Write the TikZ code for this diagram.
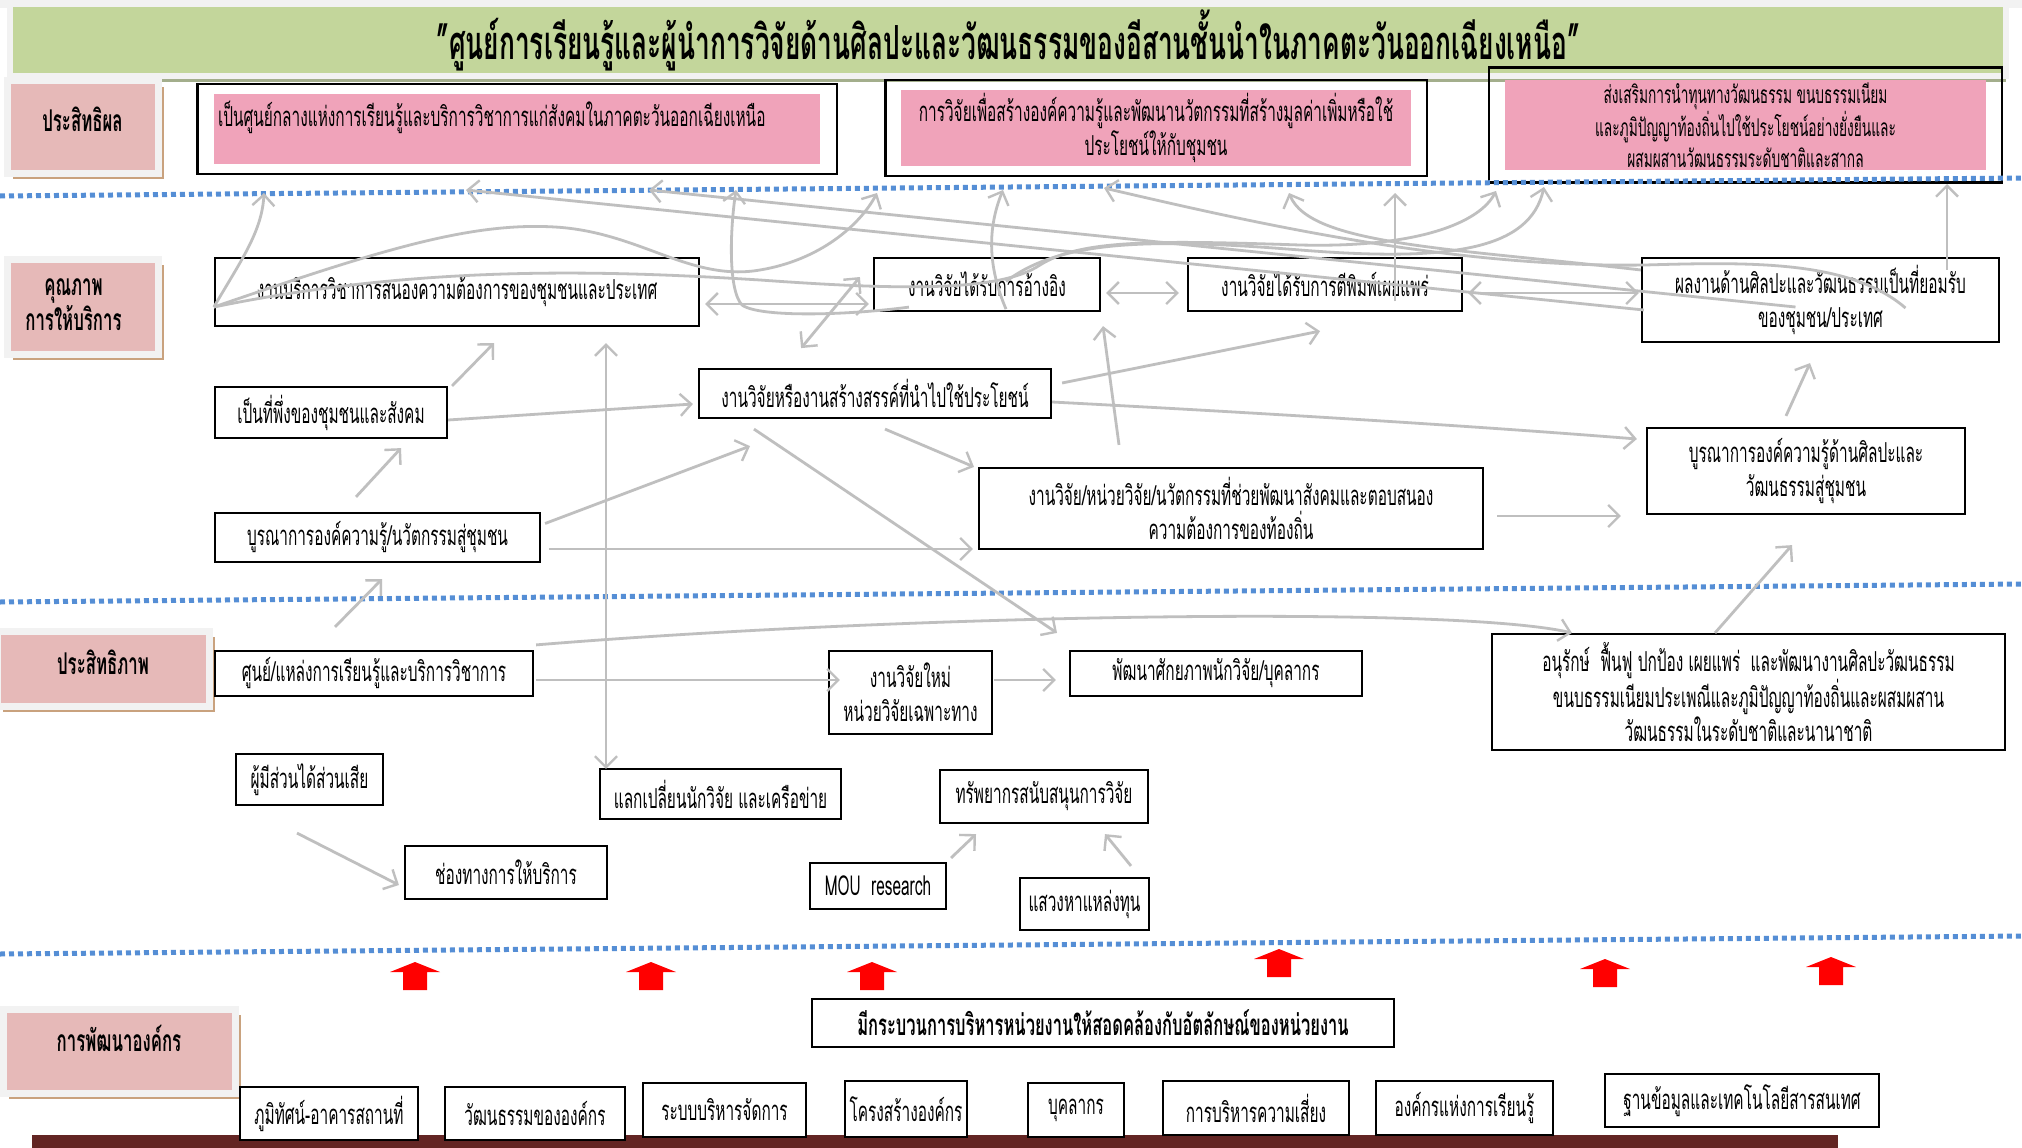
\documentclass[tikz,border=0pt]{standalone}
\usepackage{fontspec}
\setmainfont[Script=Thai,FakeStretch=0.56]{Loma}
\usetikzlibrary{arrows.meta,calc,fit,shadows}
\definecolor{bannergreen}{HTML}{C3D69B}
\definecolor{bannershade}{HTML}{A3AE8C}
\definecolor{lanepink}{HTML}{E6B9B8}
\definecolor{goalpink}{HTML}{F0A3BA}
\definecolor{dotblue}{HTML}{558ED5}
\definecolor{linegray}{HTML}{BFBFBF}
\definecolor{shadowtan}{HTML}{C9A27E}
\definecolor{barred}{HTML}{632523}
\definecolor{framegray}{HTML}{F2F2F2}
\newcommand\bodyfont{\fontsize{27.5}{34}\selectfont}
\newcommand\smallbody{\fontsize{24.5}{31}\selectfont}
\newcommand\lanefont{\fontsize{30}{34}\selectfont\bfseries}
\newcommand\titlefont{\fontsize{47}{50}\selectfont\bfseries}
\tikzset{
  box/.style={draw=black, line width=2.2pt, fill=white, align=center, inner sep=2pt, font=\bodyfont},
  goal/.style={fill=goalpink, align=center, inner sep=3pt, font=\bodyfont},
  frame/.style={draw=black, line width=2.4pt},
  lane/.style={fill=lanepink, draw=framegray, line width=7pt, align=center, font=\lanefont,
    drop shadow={shadow xshift=6pt, shadow yshift=-6pt, fill=shadowtan, opacity=1}},
  dotline/.style={draw=dotblue, line width=5pt, dash pattern=on 5pt off 4pt},
  barb/.tip={Straight Barb[length=11pt, width=22pt, line width=2.4pt]},
  link/.style={draw=linegray, line width=2.8pt, -barb},
  twoway/.style={draw=linegray, line width=2.8pt, barb-barb},
}
\begin{document}
\begin{tikzpicture}[x=1pt, y=-1pt]
\useasboundingbox (0,0) rectangle (2022,1148);
\fill[white] (0,0) rectangle (2022,1148);
\fill[framegray] (0,0) rectangle (2022,8);

% banner
\node[fill=bannergreen, draw=framegray, line width=6pt, minimum width=1996pt, minimum height=72pt,
  font=\titlefont, drop shadow={shadow xshift=0pt, shadow yshift=-6pt, fill=bannershade, opacity=1}]
  (title) at (1008,40) {"ศูนย์การเรียนรู้และผู้นำการวิจัยด้านศิลปะและวัฒนธรรมของอีสานชั้นนำในภาคตะวันออกเฉียงเหนือ"};

% lanes
\node[lane, minimum width=151pt, minimum height=92pt] (effL) at (82.5,127) {\raisebox{16pt}{ประสิทธิผล}};
\node[lane, minimum width=151pt, minimum height=95pt] (qualL) at (82.5,306.5) {\hspace*{-18pt}\raisebox{-6pt}{\begin{tabular}{@{}c@{}}คุณภาพ\\การให้บริการ\end{tabular}}};
\node[lane, minimum width=212pt, minimum height=75pt] (efcL) at (103,668.5) {\raisebox{12pt}{ประสิทธิภาพ}};
\node[lane, minimum width=232pt, minimum height=84pt] (orgL) at (119,1051) {\raisebox{26pt}{การพัฒนาองค์กร}};

% goals
\node[goal, minimum width=606pt, minimum height=70pt, text width=598pt, align=left] (goalA) at (517,129)
  {\raisebox{3pt}[0pt][0pt]{เป็นศูนย์กลางแห่งการเรียนรู้และบริการวิชาการแก่สังคมในภาคตะวันออกเฉียงเหนือ}};
\node[frame, fit=(goalA), inner xsep=16.5pt, inner ysep=10pt] (frameA) {};
\node[goal, minimum width=510pt, minimum height=72pt] (goalB) at (1156,128)
  {การวิจัยเพื่อสร้างองค์ความรู้และพัฒนานวัตกรรมที่สร้างมูลค่าเพิ่มหรือใช้\\ประโยชน์ให้กับชุมชน};
\node[frame, fit=(goalB), inner xsep=15.5pt, inner ysep=10pt] (frameB) {};
\node[goal, minimum width=481pt, minimum height=88pt, font=\smallbody] (goalC) at (1745.5,125)
  {ส่งเสริมการนำทุนทางวัฒนธรรม ขนบธรรมเนียม\\และภูมิปัญญาท้องถิ่นไปใช้ประโยชน์อย่างยั่งยืนและ\\ผสมผสานวัฒนธรรมระดับชาติและสากล};
\node[frame, fit=(goalC), inner xsep=16pt, inner ysep=12pt] (frameC) {};

% quality
\node[box, minimum width=484pt, minimum height=68pt] (svc) at (457,292) {งานบริการวิชาการสนองความต้องการของชุมชนและประเทศ};
\node[box, minimum width=226pt, minimum height=53pt] (cited) at (987,284.5) {งานวิจัยได้รับการอ้างอิง};
\node[box, minimum width=274pt, minimum height=53pt] (publ) at (1325,284.5) {งานวิจัยได้รับการตีพิมพ์เผยแพร่};
\node[box, minimum width=357pt, minimum height=84pt] (accept) at (1820.5,300) {ผลงานด้านศิลปะและวัฒนธรรมเป็นที่ยอมรับ\\ของชุมชน/ประเทศ};
\node[box, minimum width=232pt, minimum height=51pt] (depend) at (331,412.5) {เป็นที่พึ่งของชุมชนและสังคม};
\node[box, minimum width=352pt, minimum height=49pt] (useful) at (875,393.5) {งานวิจัยหรืองานสร้างสรรค์ที่นำไปใช้ประโยชน์};
\node[box, minimum width=325pt, minimum height=49pt] (integ) at (377.5,537.5) {บูรณาการองค์ความรู้/นวัตกรรมสู่ชุมชน};
\node[box, minimum width=504pt, minimum height=81pt] (local) at (1231,508.5) {งานวิจัย/หน่วยวิจัย/นวัตกรรมที่ช่วยพัฒนาสังคมและตอบสนอง\\ความต้องการของท้องถิ่น};
\node[box, minimum width=318pt, minimum height=86pt] (artint) at (1806,471) {บูรณาการองค์ความรู้ด้านศิลปะและ\\วัฒนธรรมสู่ชุมชน};

% efficiency
\node[box, minimum width=318pt, minimum height=45pt] (center) at (374,673.5) {ศูนย์/แหล่งการเรียนรู้และบริการวิชาการ};
\node[box, minimum width=163pt, minimum height=83pt] (newres) at (910.5,692.5) {งานวิจัยใหม่\\หน่วยวิจัยเฉพาะทาง};
\node[box, minimum width=292pt, minimum height=45pt] (staff) at (1216,673.5) {พัฒนาศักยภาพนักวิจัย/บุคลากร};
\node[box, minimum width=513pt, minimum height=116pt] (conserve) at (1748.5,692)
  {อนุรักษ์~ ฟื้นฟู ปกป้อง เผยแพร่~ และพัฒนางานศิลปะวัฒนธรรม\\ขนบธรรมเนียมประเพณีและภูมิปัญญาท้องถิ่นและผสมผสาน\\วัฒนธรรมในระดับชาติและนานาชาติ};
\node[box, minimum width=147pt, minimum height=51pt] (stake) at (309.5,779.5) {ผู้มีส่วนได้ส่วนเสีย};
\node[box, minimum width=241pt, minimum height=50pt] (xchg) at (720.5,794) {แลกเปลี่ยนนักวิจัย และเครือข่าย};
\node[box, minimum width=208pt, minimum height=53pt] (resrc) at (1044,796.5) {ทรัพยากรสนับสนุนการวิจัย};
\node[box, minimum width=202pt, minimum height=53pt] (channel) at (506,872.5) {ช่องทางการให้บริการ};
\node[box, minimum width=136pt, minimum height=46pt] (mou) at (878,886) {MOU~ research};
\node[box, minimum width=129pt, minimum height=52pt] (fund) at (1084.5,904) {แสวงหาแหล่งทุน};

% organisation
\fill[barred] (32,1135) rectangle (1838,1148);
\node[box, minimum width=582pt, minimum height=48pt, font=\fontsize{29.5}{34}\selectfont\bfseries] (identity) at (1103,1023) {มีกระบวนการบริหารหน่วยงานให้สอดคล้องกับอัตลักษณ์ของหน่วยงาน};
\node[box, minimum width=178pt, minimum height=53pt] (land) at (329,1113.5) {ภูมิทัศน์-อาคารสถานที่};
\node[box, minimum width=180pt, minimum height=53pt] (cult) at (535,1113.5) {วัฒนธรรมขององค์กร};
\node[box, minimum width=163pt, minimum height=54pt] (mgmt) at (724.5,1110) {ระบบบริหารจัดการ};
\node[box, minimum width=122pt, minimum height=56pt] (struct) at (906,1109) {โครงสร้างองค์กร};
\node[box, minimum width=96pt, minimum height=54pt] (person) at (1076,1110) {บุคลากร};
\node[box, minimum width=186pt, minimum height=54pt] (risk) at (1256,1108) {การบริหารความเสี่ยง};
\node[box, minimum width=177pt, minimum height=54pt] (learn) at (1464.5,1108) {องค์กรแห่งการเรียนรู้};
\node[box, minimum width=274pt, minimum height=53pt] (itdb) at (1742,1100.5) {ฐานข้อมูลและเทคโนโลยีสารสนเทศ};

% separators
\draw[dotline] (0,196) -- (2022,178);
\draw[dotline] (0,602) -- (2022,584);
\draw[dotline] (0,954) -- (2022,936);

% red arrows
\foreach \x/\y in {415/962, 651/962, 872/962, 1279/949, 1605/959, 1831/957}
  \fill[red] (\x,\y) -- ++(25,10) -- ++(-13,0) -- ++(0,18) -- ++(-24,0) -- ++(0,-18) -- ++(-13,0) -- cycle;

% free ends under the goals
\coordinate (upSvcA) at (264,193);
\coordinate (upHump) at (877,193);
\coordinate (upLeftA) at (466,190);
\coordinate (upLeftB) at (649,190);
\coordinate (upLeftC) at (1104,188);
\coordinate (upCitedA) at (736,190);
\coordinate (upCitedB) at (1003,190);
\coordinate (upPublA) at (1289,193);
\coordinate (upPublB) at (1395,193);
\coordinate (upRightA) at (1496,191);
\coordinate (upRightB) at (1544,187);
\coordinate (upAccept) at (1947,184);
\coordinate (svcL) at ($(svc.west)+(0,15)$);

% connectors to the goals
\draw[link] (svcL) .. controls (240,262) and (262,232) .. (upSvcA);
\draw[link] (svcL) .. controls (380,250) and (470,222) .. (555,227) .. controls (640,232) and (690,282) .. (760,270) .. controls (820,260) and (860,225) .. (upHump);
\draw[link] (svcL) .. controls (420,265) and (600,270) .. (760,280) .. controls (900,290) and (1000,292) .. (1040,265) .. controls (1080,240) and (1150,240) .. (1300,245) .. controls (1420,248) and (1480,222) .. (upRightA);
\draw[link] ($(cited.center)+(19,-3)$) .. controls (1060,240) and (1150,238) .. (1300,250) .. controls (1450,262) and (1530,250) .. (upRightB);
\draw[link] ($(accept.west)+(3,10)$) -- (upLeftA);
\draw[link] ($(accept.center)+(-25,7)$) -- (upLeftB);
\draw[link] ($(accept.center)+(85,8)$) .. controls (1850,260) and (1750,262) .. (1645,265) .. controls (1450,268) and (1250,222) .. (upLeftC);
\draw[link] ($(cited.south west)+(36,-5)$) .. controls (850,315) and (760,318) .. (742,305) .. controls (728,290) and (730,230) .. (upCitedA);
\draw[link] ($(cited.south)+(19,-3)$) .. controls (985,260) and (990,222) .. (upCitedB);
\draw[link] ($(accept.west)+(0,-30)$) .. controls (1450,248) and (1310,245) .. (upPublA);
\draw[link] ($(publ.south)+(70,-11)$) -- (upPublB);
\draw[link] ($(accept.north)+(126.5,13)$) -- (upAccept);

% connectors in the quality band
\draw[twoway] ($(svc.east)+(5,12)$) -- ($(cited.west)+(-4,19.5)$);
\draw[twoway] ($(svc.south east)+(101,21)$) -- ($(cited.west)+(-13,-7.5)$);
\draw[twoway] ($(cited.east)+(5,8.5)$) -- ($(publ.west)+(-8,8.5)$);
\draw[twoway] ($(publ.east)+(5,8.5)$) -- ($(accept.west)+(-2,-7)$);
\draw[link] ($(depend.north east)+(4,0)$) -- ($(svc.south)+(37,16)$);
\draw[link] ($(depend.east)+(0,7.5)$) -- ($(useful.west)+(-5,10.5)$);
\draw[link] ($(integ.north)+(-21.5,-15)$) -- ($(depend.south)+(70,9)$);
\draw[twoway] ($(svc.south)+(149,16)$) -- ($(xchg.north)+(-114.5,1)$);
\draw[link] ($(integ.east)+(4,-14)$) -- ($(useful.south)+(-125,27)$);
\draw[link] ($(integ.east)+(8,11.5)$) -- ($(local.west)+(-5,40.5)$);
\draw[link] ($(center.north)+(-39,-23)$) -- ($(integ.south)+(4.5,16)$);
\draw[link] ($(useful.south)+(10,10)$) -- ($(local.north)+(-257,0)$);
\draw[link] ($(useful.south)+(-121,10)$) -- ($(staff.north)+(-159,-17)$);
\draw[link] ($(local.north)+(-112,-22)$) -- ($(cited.south)+(116,14)$);
\draw[link] ($(useful.east)+(10,-10.5)$) -- ($(publ.south)+(-5,19)$);
\draw[link] ($(useful.east)+(0,8.5)$) .. controls (1300,415) and (1500,428) .. ($(artint.west)+(-9,-32)$);
\draw[link] ($(local.east)+(13,7.5)$) -- ($(artint.west)+(-25,45)$);
\draw[link] ($(artint.north)+(-20,-11)$) -- ($(accept.south)+(-10.5,20)$);
\draw[link] ($(conserve.north)+(-33.5,0)$) -- ($(artint.south)+(-14,30)$);

% connectors in the efficiency band
\draw[link] ($(center.north east)+(2,-5)$) .. controls (900,615) and (1450,605) .. ($(conserve.north west)+(81,0)$);
\draw[link] ($(center.east)+(2,6.5)$) -- ($(newres.west)+(12,-12.5)$);
\draw[link] ($(newres.east)+(1,-12.5)$) -- ($(staff.west)+(-13,6.5)$);
\draw[link] ($(stake.south)+(-12.5,27)$) -- ($(channel.west)+(-5,12.5)$);
\draw[link] ($(mou.north east)+(4,-4)$) -- ($(resrc.south)+(-68,10)$);
\draw[link] ($(fund.north)+(46.5,-11)$) -- ($(resrc.south)+(61,10)$);
\end{tikzpicture}
\end{document}
